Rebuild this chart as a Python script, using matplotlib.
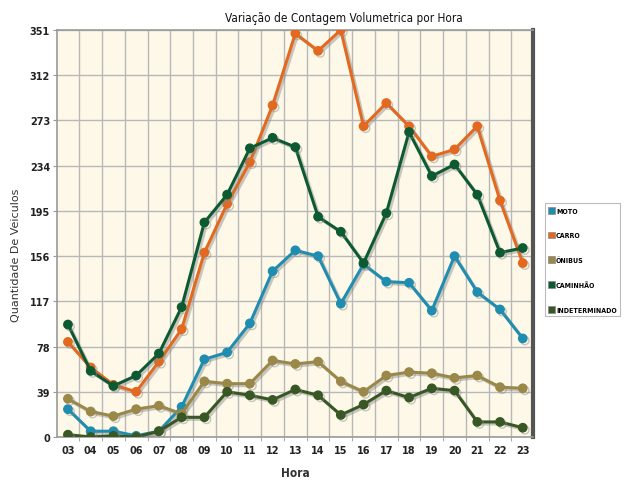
import matplotlib.pyplot as plt
import matplotlib.patheffects as pe
import numpy as np

horas = ['03', '04', '05', '06', '07', '08', '09', '10', '11', '12', '13',
         '14', '15', '16', '17', '18', '19', '20', '21', '22', '23']

moto = [24, 5, 5, 1, 5, 26, 67, 73, 98, 143, 161, 156, 115, 149, 134, 133, 109, 156, 125, 110, 85]
carro = [82, 60, 45, 39, 65, 93, 159, 201, 237, 286, 348, 333, 351, 268, 288, 268, 242, 248, 268, 204, 150]
onibus = [33, 22, 18, 24, 27, 20, 48, 46, 46, 66, 63, 65, 48, 39, 53, 56, 55, 51, 53, 43, 42]
caminhao = [97, 57, 44, 53, 72, 112, 185, 209, 249, 258, 250, 190, 177, 150, 193, 263, 225, 235, 209, 159, 163]
indeterminado = [2, 0, 1, 0, 5, 17, 17, 39, 36, 32, 41, 36, 19, 28, 40, 34, 42, 40, 13, 13, 8]

series = [
    ('MOTO', moto, '#1f8db0'),
    ('CARRO', carro, '#e2691f'),
    ('ÔNIBUS', onibus, '#9a8848'),
    ('CAMINHÃO', caminhao, '#0d5a32'),
    ('INDETERMINADO', indeterminado, '#385725'),
]

yticks = [0, 39, 78, 117, 156, 195, 234, 273, 312, 351]

fig = plt.figure(figsize=(6.3, 4.81), dpi=100)
ax = fig.add_axes([0.0905, 0.0894, 0.7555, 0.8462])
ax.set_facecolor('#fdf8e8')

x = np.arange(len(horas))
shadow = [pe.SimpleLineShadow(offset=(1.5, -1.5), shadow_color='#888888', alpha=0.45), pe.Normal()]
handles = []
for name, vals, color in series:
    ax.plot(x, vals, color=color, lw=2.2, marker='o', ms=6, zorder=3,
            path_effects=shadow)
    handles.append(plt.Rectangle((0, 0), 1, 1, facecolor=color, edgecolor='#888888', lw=0.5))

ax.set_xlim(-0.48, 20.45)
ax.set_ylim(0, 351)
ax.set_xticks(x)
ax.set_xticklabels(horas, fontsize=7, fontweight='bold', color='#222222')
ax.set_xticks(np.arange(len(horas) - 1) + 0.5, minor=True)
ax.set_yticks(yticks)
ax.set_yticklabels([str(v) for v in yticks], fontsize=7, fontweight='bold', color='#222222')
ax.tick_params(axis='x', which='major', length=0, pad=6)
ax.tick_params(axis='x', which='minor', length=3, color='#999999')
ax.tick_params(axis='y', length=3, color='#999999', pad=2)

ax.grid(True, axis='y', which='major', color='#b8b8b8', lw=1)
ax.grid(True, axis='x', which='minor', color='#b8b8b8', lw=1)
ax.set_axisbelow(True)

for side in ['left', 'top', 'bottom']:
    ax.spines[side].set_color('#9a9a9a')
    ax.spines[side].set_linewidth(1.2)
ax.spines['right'].set_color('#555555')
ax.spines['right'].set_linewidth(3)

fig.text(0.546, 0.962, 'Variação de Contagem Volumetrica por Hora', fontsize=8.5,
         ha='center', va='center', color='#111111', fontstretch='condensed',
         fontweight='medium')
ax.set_xlabel('Hora', fontsize=8.5, fontweight='bold', color='#333333', labelpad=8,
              fontstretch='condensed')
ax.set_ylabel('Quantidade De Veiculos', fontsize=8, color='#333333', labelpad=5)
ax.yaxis.set_label_coords(-0.075, 0.45)

leg = fig.legend(handles, [s[0] for s in series], loc='upper left',
                 bbox_to_anchor=(0.865, 0.575), frameon=True, fancybox=False,
                 prop={'size': 5, 'weight': 'bold', 'stretch': 'condensed'},
                 handlelength=1.0, handleheight=1.1,
                 handletextpad=0.1, labelspacing=2.6, borderpad=0.5, borderaxespad=0)
leg.get_frame().set_edgecolor('#aaaaaa')
leg.get_frame().set_linewidth(0.8)

fig.savefig('out.png', dpi=100, facecolor='white')
